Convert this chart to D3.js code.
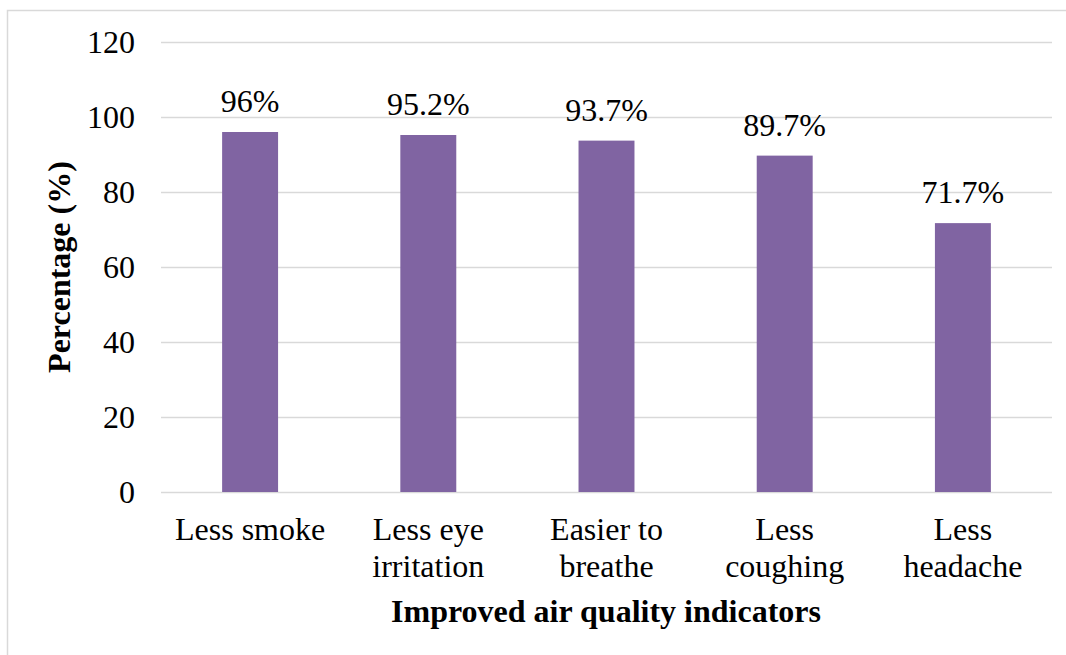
<!DOCTYPE html>
<html>
<head>
<meta charset="utf-8">
<script src="https://cdn.jsdelivr.net/npm/d3@7"></script>
<style>
html,body{margin:0;padding:0;background:#fff;}
svg{display:block;}
svg text{font-family:"Liberation Serif","Times New Roman",serif !important;fill:#000;}
</style>
</head>
<body>
<script>
const categories = [["Less smoke"], ["Less eye", "irritation"], ["Easier to", "breathe"], ["Less", "coughing"], ["Less", "headache"]];
const values = [96, 95.2, 93.7, 89.7, 71.7];
const valueLabels = ["96%", "95.2%", "93.7%", "89.7%", "71.7%"];
const yTicks = [0, 20, 40, 60, 80, 100, 120];

(function() {
const W = 1066, H = 655;
const FS = "32px";
const svg = d3.select("body").append("svg").attr("width", W).attr("height", H);

// chart border
svg.append("rect").attr("x", 7.5).attr("y", 10.5).attr("width", W + 10).attr("height", H + 10)
  .attr("fill", "none").attr("stroke", "#d9d9d9").attr("stroke-width", 1.5);

const pLeft = 161, pRight = 1052, pTop = 42, pBottom = 492;
const keys = categories.map((c, i) => i);
const x = d3.scaleBand().domain(keys).range([pLeft, pRight]).paddingInner(0.686).paddingOuter(0.343);
const y = d3.scaleLinear().domain([0, 120]).range([pBottom, pTop]);

// gridlines
svg.append("g").selectAll("line").data(yTicks).join("line")
  .attr("x1", pLeft).attr("x2", pRight)
  .attr("y1", d => y(d) + 0.5).attr("y2", d => y(d) + 0.5)
  .attr("stroke", "#d9d9d9").attr("stroke-width", 1.5);

// y axis labels
const yAxis = d3.axisLeft(y).tickValues(yTicks).tickSize(0).tickPadding(26);
const gy = svg.append("g").attr("transform", `translate(${pLeft},0)`).call(yAxis);
gy.select(".domain").remove();
gy.selectAll("text").style("font-size", FS).attr("fill", "#000");

// bars
svg.append("g").selectAll("rect").data(values).join("rect")
  .attr("x", (d, i) => x(i)).attr("width", x.bandwidth())
  .attr("y", d => y(d)).attr("height", d => y(0) - y(d))
  .attr("fill", "#8064A2");

// value labels
svg.append("g").selectAll("text").data(values).join("text")
  .attr("x", (d, i) => x(i) + x.bandwidth() / 2)
  .attr("y", d => y(d) - 20)
  .attr("text-anchor", "middle").style("font-size", FS)
  .text((d, i) => valueLabels[i]);

// category labels
const cg = svg.append("g").selectAll("text").data(categories).join("text")
  .attr("x", (d, i) => x(i) + x.bandwidth() / 2)
  .attr("y", 540)
  .attr("text-anchor", "middle").style("font-size", FS);
cg.selectAll("tspan").data(d => d).join("tspan")
  .attr("x", function() { return d3.select(this.parentNode).attr("x"); })
  .attr("dy", (d, i) => i === 0 ? 0 : 37)
  .text(d => d);

// axis titles
svg.append("text").attr("x", 606).attr("y", 622)
  .attr("text-anchor", "middle").style("font-size", FS).style("font-weight", "bold")
  .text("Improved air quality indicators");

svg.append("text").attr("transform", `translate(70,${(pTop + pBottom) / 2}) rotate(-90)`)
  .attr("text-anchor", "middle").style("font-size", FS).style("font-weight", "bold")
  .text("Percentage (%)");
})();
</script>
</body>
</html>
